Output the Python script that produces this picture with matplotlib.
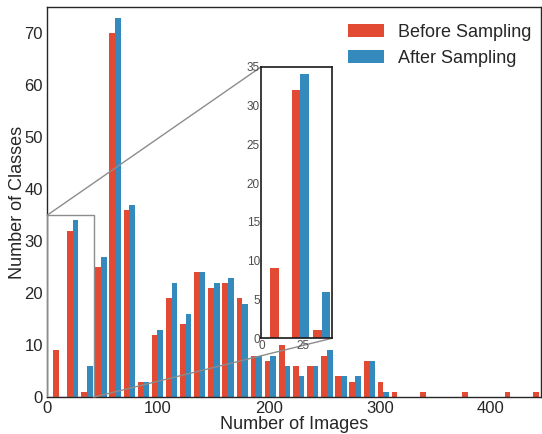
import numpy as np
import matplotlib
matplotlib.use('Agg')
import matplotlib.pyplot as plt
from matplotlib.patches import ConnectionPatch

# histogram of classes per image count, 35 bins
bin_edges = np.linspace(4.0, 449.3, 36)
before = [9, 32, 1, 25, 70, 36, 3, 12, 19, 14, 24, 21, 22, 19, 8, 7, 10, 6,
          6, 8, 4, 3, 7, 3, 1, 0, 1, 0, 0, 1, 0, 0, 1, 0, 1]
after = [0, 34, 6, 27, 73, 37, 3, 13, 22, 16, 24, 22, 23, 18, 8, 8, 6, 4,
         6, 9, 4, 4, 7, 1, 0, 0, 0, 0, 0, 0, 0, 0, 0, 0, 0]
labels = ['Before Sampling', 'After Sampling']
colors = ['#E24A33', '#348ABD']
zoom_x = (0, 42)
zoom_y = (0, 35)

plt.rcParams['font.family'] = ['Liberation Sans', 'DejaVu Sans']
plt.rcParams['text.color'] = '.15'
plt.rcParams['axes.labelcolor'] = '.15'
plt.rcParams['xtick.color'] = '.15'
plt.rcParams['ytick.color'] = '.15'

centers = 0.5 * (bin_edges[:-1] + bin_edges[1:])

fig = plt.figure(figsize=(5.42, 4.34), dpi=100)
ax = fig.add_axes([0.087, 0.085, 0.911, 0.898])
ax.hist([centers, centers], bins=bin_edges, weights=[before, after],
        color=colors, label=labels)
ax.set_xlim(0, 445)
ax.set_ylim(0, 75)
ax.set_xticks([0, 100, 200, 300, 400])
ax.set_yticks(range(0, 71, 10))
ax.tick_params(length=0, labelsize=12, pad=3)
ax.set_xlabel('Number of Images', fontsize=13, labelpad=0)
ax.set_ylabel('Number of Classes', fontsize=13, labelpad=-1)
for s in ax.spines.values():
    s.set_color('.15')
    s.set_linewidth(1.0)
ax.legend(loc='upper right', bbox_to_anchor=(1.014, 1.0), frameon=False,
          fontsize=13)

# zoomed inset on the first bins
ins = ax.inset_axes([0.434, 0.151, 0.143, 0.697])
ins.hist([centers, centers], bins=bin_edges, weights=[before, after],
         color=colors)
ins.set_xlim(*zoom_x)
ins.set_ylim(*zoom_y)
ins.set_xticks([0, 25])
ins.set_yticks(range(0, 36, 5))
ins.tick_params(length=0, labelsize=8.5, pad=1, colors='.3')
for s in ins.spines.values():
    s.set_color('.1')
    s.set_linewidth(1.2)

# zoom box and connector lines
ax.add_patch(plt.Rectangle((zoom_x[0], zoom_y[0]), zoom_x[1] - zoom_x[0],
                           zoom_y[1] - zoom_y[0], fill=False,
                           edgecolor='0.55', linewidth=1.0, zorder=5))
for pa, pb in [((zoom_x[0], zoom_y[1]), (0, 1)),
               ((zoom_x[1], zoom_y[0]), (1, 0))]:
    con = ConnectionPatch(xyA=pa, coordsA=ax.transData,
                          xyB=pb, coordsB=ins.transAxes,
                          color='0.55', linewidth=1.0, zorder=5)
    ax.add_artist(con)

fig.savefig('out.png', dpi=100)
